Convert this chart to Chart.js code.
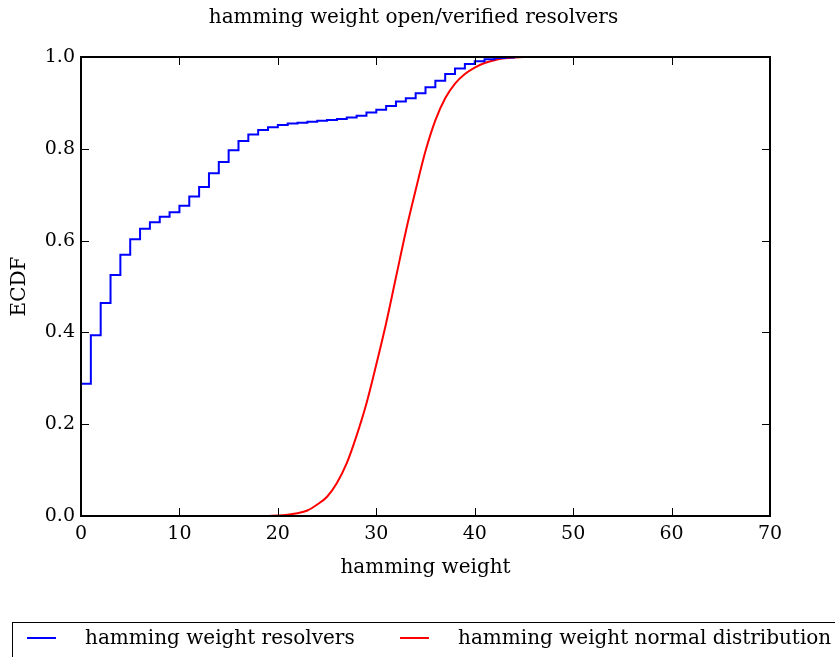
<!DOCTYPE html>
<html>
<head>
<meta charset="utf-8">
<script src="https://cdn.jsdelivr.net/npm/chart.js@4.4.1/dist/chart.umd.min.js"></script>
<style>
  html, body { margin: 0; padding: 0; background: #fff; }
  #wrap { width: 835px; height: 657px; }
</style>
</head>
<body>
<div id="wrap"><canvas id="mainChart" width="835" height="657"></canvas></div>
<script>
// hamming weight (x) values
const weights = [0,1,2,3,4,5,6,7,8,9,10,11,12,13,14,15,16,17,18,19,20,21,22,23,24,25,26,27,28,29,30,
  31,32,33,34,35,36,37,38,39,40,41,42,43,44,45,46,47,48,49,50,51,52,53,54,55,56,57,58,59,60,61,62,63,64];

// ECDF of the open/verified resolvers (step curve)
const resolverEcdf = [0.288,0.394,0.464,0.525,0.569,0.603,0.626,0.640,0.652,0.662,0.676,0.696,0.717,0.747,
  0.771,0.797,0.817,0.831,0.841,0.847,0.852,0.855,0.857,0.859,0.861,0.863,0.865,0.868,0.872,0.879,0.885,
  0.893,0.903,0.910,0.921,0.934,0.948,0.963,0.975,0.985,0.991,0.995,0.998,0.999,1,1,1,1,1,1,1,1,1,1,1,1,1,1,1,1,1,1,1,1,1];

// ECDF of the normal distribution reference
const normalEcdf = [0,0,0,0,0,0,0,0,0,0,0,0,0,0,0,0,0,0,0,0,0.001,0.003,0.006,0.012,0.025,0.042,0.072,0.115,
  0.175,0.245,0.33,0.42,0.52,0.62,0.71,0.795,0.862,0.91,0.942,0.963,0.977,0.987,0.993,0.997,0.999,
  1,1,1,1,1,1,1,1,1,1,1,1,1,1,1,1,1,1,1,1];

const xTicks = [0,10,20,30,40,50,60,70];
const yTicks = [0.0,0.2,0.4,0.6,0.8,1.0];

const serif = "'DejaVu Serif', 'Liberation Serif', serif";

// inward ticks on all four sides plus the frame, like the matplotlib classic style
const frameTicks = {
  id: 'frameTicks',
  afterDatasetsDraw(chart) {
    const ctx = chart.ctx;
    const a = chart.chartArea;
    const xs = chart.scales.x, ys = chart.scales.y;
    ctx.save();
    ctx.strokeStyle = '#000';
    ctx.lineWidth = 1;
    xTicks.forEach(v => {
      const px = Math.round(xs.getPixelForValue(v)) + 0.5;
      ctx.beginPath();
      ctx.moveTo(px, a.bottom); ctx.lineTo(px, a.bottom - 8);
      ctx.moveTo(px, a.top); ctx.lineTo(px, a.top + 8);
      ctx.stroke();
    });
    yTicks.forEach(v => {
      const py = Math.round(ys.getPixelForValue(v)) + 0.5;
      ctx.beginPath();
      ctx.moveTo(a.left, py); ctx.lineTo(a.left + 8, py);
      ctx.moveTo(a.right, py); ctx.lineTo(a.right - 8, py);
      ctx.stroke();
    });
    ctx.lineWidth = 2;
    ctx.strokeRect(a.left, a.top, a.right - a.left, a.bottom - a.top);
    ctx.restore();
  }
};

// boxed legend under the chart
const boxLegend = {
  id: 'boxLegend',
  afterDraw(chart) {
    const ctx = chart.ctx;
    const ds = chart.data.datasets;
    ctx.save();
    ctx.strokeStyle = '#000';
    ctx.lineWidth = 1;
    ctx.strokeRect(12.5, 622.5, 830, 60);
    ctx.font = '20px ' + serif;
    ctx.textBaseline = 'middle';
    ctx.fillStyle = '#000';
    const items = [{lx: 27, tx: 85}, {lx: 400, tx: 458}];
    ds.forEach((d, i) => {
      ctx.strokeStyle = d.borderColor;
      ctx.lineWidth = 2;
      ctx.beginPath();
      ctx.moveTo(items[i].lx, 638);
      ctx.lineTo(items[i].lx + 29, 638);
      ctx.stroke();
      ctx.fillText(d.label, items[i].tx, 639);
    });
    ctx.restore();
  }
};

new Chart(document.getElementById('mainChart'), {
  type: 'line',
  data: {
    datasets: [{
      label: 'hamming weight resolvers',
      data: resolverEcdf.map((v, i) => ({x: weights[i], y: v})),
      borderColor: '#0000ff',
      borderWidth: 2,
      stepped: 'before',
      pointRadius: 0,
      fill: false
    }, {
      label: 'hamming weight normal distribution',
      data: normalEcdf.map((v, i) => ({x: weights[i], y: v})),
      borderColor: '#ff0000',
      borderWidth: 2,
      cubicInterpolationMode: 'monotone',
      pointRadius: 0,
      fill: false
    }]
  },
  options: {
    responsive: false,
    animation: false,
    layout: { padding: { left: 0, right: 8, top: 0, bottom: 0 } },
    plugins: {
      legend: { display: false },
      tooltip: { enabled: false },
      title: {
        display: true,
        text: 'hamming weight open/verified resolvers',
        color: '#000',
        font: { family: serif, size: 20, weight: 'normal' },
        padding: { top: 6, bottom: 27 }
      }
    },
    scales: {
      x: {
        type: 'linear',
        min: 0, max: 70,
        afterFit(s) { s.height = 141; },
        grid: { display: false, drawTicks: false },
        border: { display: false },
        ticks: { stepSize: 10, color: '#000', padding: 7, maxRotation: 0,
          font: { family: serif, size: 19 } },
        title: { display: true, text: 'hamming weight', color: '#000',
          font: { family: serif, size: 20 }, padding: { top: 0, bottom: 77 } }
      },
      y: {
        min: 0, max: 1,
        afterFit(s) { s.width = 81; },
        grid: { display: false, drawTicks: false },
        border: { display: false },
        ticks: { stepSize: 0.2, color: '#000', padding: 6,
          font: { family: serif, size: 19 },
          callback: v => v.toFixed(1) },
        title: { display: true, text: 'ECDF', color: '#000',
          font: { family: serif, size: 20 }, padding: { top: 8, bottom: 0 } }
      },
      yRight: {
        position: 'right',
        min: 0, max: 1,
        afterFit(s) { s.width = 57; },
        grid: { display: false, drawTicks: false },
        border: { display: false },
        ticks: { display: false }
      }
    }
  },
  plugins: [frameTicks, boxLegend]
});
</script>
</body>
</html>
